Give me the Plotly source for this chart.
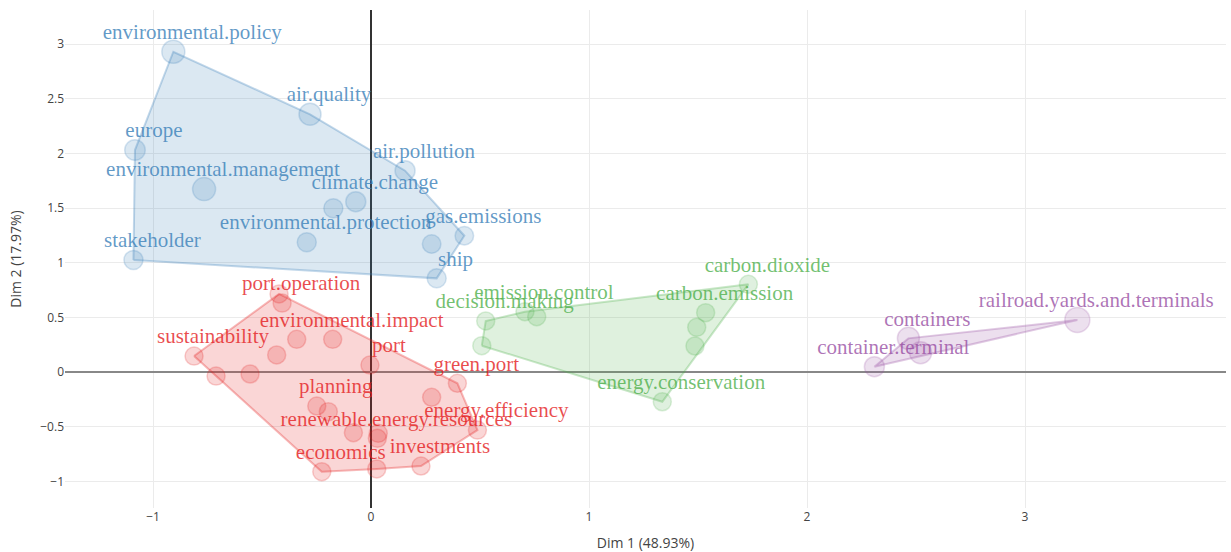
import plotly.graph_objects as go

# ---- data ----
blue_names = ["environmental.policy", "air.quality", "europe", "environmental.management",
              "air.pollution", "climate.change", "", "environmental.protection",
              "gas.emissions", "", "ship", "stakeholder"]
blue_x = [-0.907, -0.280, -1.083, -0.766, 0.156, -0.070, -0.173, -0.295, 0.428, 0.278, 0.301, -1.090]
blue_y = [2.930, 2.358, 2.031, 1.674, 1.842, 1.558, 1.498, 1.187, 1.247, 1.171, 0.857, 1.025]
blue_q = [0.7, 0.6, 0.45, 0.7, 0.4, 0.4, 0.3, 0.3, 0.25, 0.25, 0.3, 0.3]

red_names = ["", "port.operation", "sustainability", "", "", "", "", "environmental.impact",
             "port", "green.port", "", "energy.efficiency", "planning", "", "", "",
             "renewable.energy.resources", "economics", "", "investments"]
red_x = [-0.422, -0.408, -0.812, -0.711, -0.555, -0.433, -0.341, -0.176, -0.005, 0.396,
         0.278, 0.488, -0.249, -0.196, -0.081, 0.033, 0.029, -0.226, 0.026, 0.229]
red_y = [0.714, 0.631, 0.146, -0.037, -0.018, 0.156, 0.299, 0.299, 0.064, -0.103,
         -0.231, -0.531, -0.311, -0.363, -0.555, -0.561, -0.607, -0.912, -0.887, -0.860]
red_q = [0.2] * 20

green_names = ["carbon.dioxide", "carbon.emission", "", "", "", "emission.control",
               "decision.making", "", "energy.conservation"]
green_x = [1.731, 1.535, 1.494, 1.486, 0.760, 0.706, 0.526, 0.508, 1.336]
green_y = [0.802, 0.543, 0.409, 0.238, 0.506, 0.552, 0.467, 0.241, -0.272]
green_q = [0.2] * 9

purple_names = ["railroad.yards.and.terminals", "containers", "", "container.terminal"]
purple_x = [3.240, 2.465, 2.521, 2.309]
purple_y = [0.476, 0.308, 0.177, 0.049]
purple_q = [0.9, 0.6, 0.6, 0.4]

x_ticks = [-1, 0, 1, 2, 3]
y_ticks = [-1, -0.5, 0, 0.5, 1, 1.5, 2, 2.5, 3]
x_title = "Dim 1 (48.93%)"
y_title = "Dim 2 (17.97%)"

groups = [
    (blue_names, blue_x, blue_y, blue_q, (55, 126, 184)),
    (red_names, red_x, red_y, red_q, (228, 26, 28)),
    (green_names, green_x, green_y, green_q, (77, 175, 74)),
    (purple_names, purple_x, purple_y, purple_q, (152, 78, 163)),
]


def hull(xs, ys):
    pts = sorted(set(zip(xs, ys)))
    if len(pts) < 3:
        return pts

    def cross(o, a, b):
        return (a[0] - o[0]) * (b[1] - o[1]) - (a[1] - o[1]) * (b[0] - o[0])

    lower, upper = [], []
    for p in pts:
        while len(lower) >= 2 and cross(lower[-2], lower[-1], p) <= 0:
            lower.pop()
        lower.append(p)
    for p in reversed(pts):
        while len(upper) >= 2 and cross(upper[-2], upper[-1], p) <= 0:
            upper.pop()
        upper.append(p)
    return lower[:-1] + upper[:-1]


def rgba(c, a):
    return "rgba(%d,%d,%d,%s)" % (c[0], c[1], c[2], a)


fig = go.Figure()

for names, xs, ys, qs, col in groups:
    h = hull(xs, ys)
    hx = [p[0] for p in h] + [h[0][0]]
    hy = [p[1] for p in h] + [h[0][1]]
    fig.add_trace(go.Scatter(x=hx, y=hy, mode="lines", fill="toself",
                             fillcolor=rgba(col, 0.18),
                             line=dict(color=rgba(col, 0.3), width=2),
                             hoverinfo="skip", showlegend=False))

for names, xs, ys, qs, col in groups:
    fig.add_trace(go.Scatter(x=xs, y=ys, mode="markers",
                             marker=dict(size=[16 + 10 * q for q in qs],
                                         color=rgba(col, 0.25),
                                         line=dict(color=rgba(col, 0.3), width=1.5)),
                             text=names, showlegend=False))

dx, dy = 0.087, 0.165
for names, xs, ys, qs, col in groups:
    fig.add_trace(go.Scatter(x=[v + dx for v in xs], y=[v + dy for v in ys], mode="text",
                             text=names, textposition="middle center",
                             textfont=dict(family="Liberation Serif", size=21,
                                           color=rgba(col, 0.78)),
                             hoverinfo="skip", showlegend=False))

fig.update_layout(
    width=1231, height=552,
    margin=dict(l=65, r=5, t=10, b=44),
    paper_bgcolor="white", plot_bgcolor="white",
    font=dict(family="Open Sans", color="#444"),
    showlegend=False,
)
fig.update_xaxes(range=[-1.404, 3.922], tickvals=x_ticks, showgrid=True, gridcolor="#ebebeb",
                 zeroline=True, zerolinecolor="#333", zerolinewidth=1.5, automargin=False,
                 title=dict(text=x_title, font=dict(size=14)), tickfont=dict(size=12),
                 ticks="", showline=False)
fig.update_yaxes(range=[-1.244, 3.312], tickvals=y_ticks, showgrid=True, gridcolor="#ebebeb",
                 zeroline=True, zerolinecolor="#888", zerolinewidth=1.5, automargin=False,
                 title=dict(text=y_title, font=dict(size=14)), tickfont=dict(size=12),
                 ticks="", showline=False)

fig.write_html("out.html", config={"displayModeBar": False},
               post_script="document.body.style.margin='0';document.body.style.overflow='hidden';")
